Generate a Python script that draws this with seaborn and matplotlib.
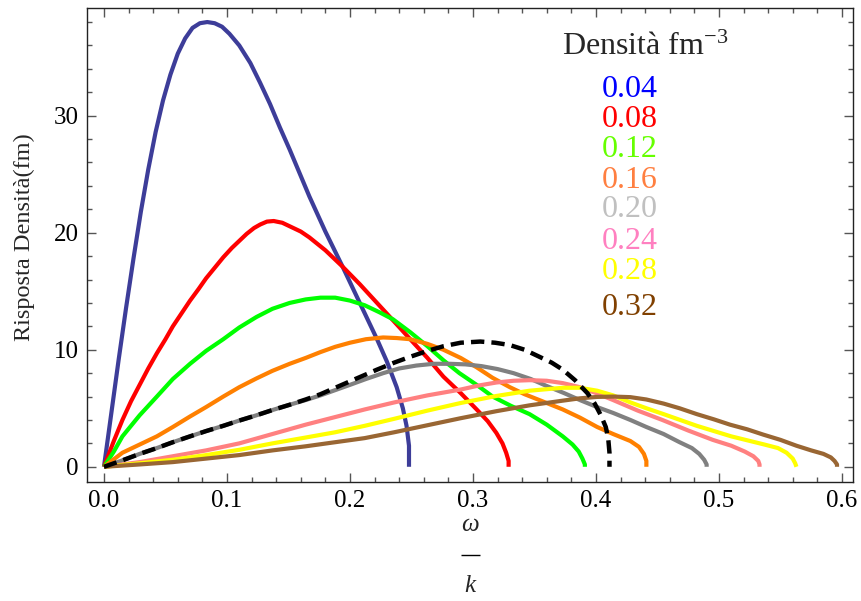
import matplotlib
matplotlib.use("Agg")
import matplotlib.pyplot as plt
import seaborn as sns
from matplotlib.ticker import MultipleLocator
from matplotlib.lines import Line2D

# ---------------- data ----------------
densities = ["0.04", "0.08", "0.12", "0.16", "0.20", "0.24", "0.28", "0.32"]

x_004 = [0, 0.006, 0.012, 0.018, 0.024, 0.030, 0.036, 0.042, 0.048, 0.054, 0.060, 0.066,
         0.072, 0.078, 0.084, 0.090, 0.096, 0.102, 0.110, 0.119, 0.127, 0.135, 0.143, 0.151,
         0.159, 0.167, 0.180, 0.194, 0.208, 0.222, 0.230, 0.238, 0.243, 0.246, 0.248, 0.248]
y_004 = [0, 4.6, 9.2, 13.6, 17.8, 21.8, 25.4, 28.6, 31.3, 33.5, 35.3, 36.6,
         37.5, 37.9, 38.0, 37.9, 37.6, 37.0, 36.0, 34.5, 32.8, 31.0, 29.0, 27.1,
         25.1, 23.1, 20.1, 17.1, 14.0, 10.9, 9.0, 6.8, 5.0, 3.5, 1.8, 0]

x_008 = [0, 0.008, 0.015, 0.022, 0.029, 0.036, 0.043, 0.050, 0.056, 0.063, 0.070, 0.077,
         0.083, 0.090, 0.097, 0.104, 0.110, 0.116, 0.122, 0.127, 0.1325, 0.138, 0.145, 0.152,
         0.160, 0.167, 0.180, 0.194, 0.208, 0.222, 0.236, 0.249, 0.263, 0.276, 0.290, 0.303,
         0.312, 0.319, 0.324, 0.327, 0.329, 0.329]
y_008 = [0, 2.2, 4.0, 5.6, 7.0, 8.4, 9.7, 10.9, 12.0, 13.1, 14.2, 15.2,
         16.1, 17.0, 17.9, 18.7, 19.3, 19.9, 20.4, 20.7, 20.95, 21.0, 20.85, 20.5,
         20.1, 19.6, 18.5, 17.1, 15.6, 14.0, 12.4, 10.9, 9.3, 7.7, 6.3, 4.9,
         3.9, 2.9, 2.0, 1.2, 0.5, 0]

x_012 = [0, 0.008, 0.015, 0.029, 0.043, 0.056, 0.070, 0.083, 0.097, 0.110, 0.124, 0.137,
         0.151, 0.164, 0.176, 0.188, 0.200, 0.212, 0.224, 0.235, 0.249, 0.263, 0.276, 0.289,
         0.303, 0.316, 0.331, 0.346, 0.360, 0.373, 0.381, 0.386, 0.389, 0.391, 0.391]
y_012 = [0, 1.3, 2.6, 4.4, 6.0, 7.5, 8.8, 9.9, 10.9, 11.9, 12.8, 13.5,
         14.0, 14.3, 14.45, 14.45, 14.2, 13.8, 13.2, 12.6, 11.5, 10.3, 9.1, 8.0,
         7.0, 6.0, 5.2, 4.5, 3.6, 2.6, 1.9, 1.3, 0.7, 0.2, 0]

x_016 = [0, 0.015, 0.029, 0.043, 0.056, 0.070, 0.083, 0.097, 0.110, 0.124, 0.137, 0.151,
         0.164, 0.176, 0.188, 0.200, 0.213, 0.227, 0.238, 0.249, 0.263, 0.276, 0.290, 0.303,
         0.316, 0.330, 0.342, 0.354, 0.373, 0.387, 0.401, 0.414, 0.428, 0.435, 0.439, 0.441, 0.441]
y_016 = [0, 1.2, 1.9, 2.6, 3.4, 4.3, 5.1, 6.0, 6.8, 7.55, 8.2, 8.8,
         9.3, 9.8, 10.25, 10.6, 10.9, 11.05, 11.0, 10.9, 10.5, 10.0, 9.3, 8.5,
         7.6, 6.8, 6.2, 5.7, 4.9, 4.2, 3.4, 2.8, 2.2, 1.7, 1.1, 0.5, 0]

x_020 = [0, 0.015, 0.029, 0.043, 0.056, 0.070, 0.083, 0.097, 0.110, 0.124, 0.137, 0.151,
         0.164, 0.176, 0.188, 0.200, 0.213, 0.227, 0.240, 0.254, 0.268, 0.281, 0.294, 0.307,
         0.320, 0.333, 0.347, 0.360, 0.374, 0.387, 0.401, 0.414, 0.428, 0.441, 0.455, 0.468,
         0.478, 0.484, 0.488, 0.490, 0.490]
y_020 = [0, 0.55, 1.1, 1.6, 2.1, 2.6, 3.05, 3.5, 3.95, 4.4, 4.85, 5.3,
         5.7, 6.1, 6.55, 7.0, 7.5, 8.0, 8.4, 8.65, 8.8, 8.8, 8.75, 8.6,
         8.35, 8.0, 7.5, 6.9, 6.3, 5.7, 5.1, 4.6, 4.0, 3.4, 2.8, 2.1,
         1.6, 1.1, 0.6, 0.2, 0]

x_024 = [0, 0.029, 0.056, 0.083, 0.110, 0.137, 0.164, 0.188, 0.212, 0.236, 0.263, 0.290,
         0.305, 0.319, 0.333, 0.346, 0.360, 0.373, 0.387, 0.400, 0.414, 0.434, 0.454, 0.475,
         0.495, 0.510, 0.521, 0.528, 0.532, 0.533, 0.533]
y_024 = [0, 0.4, 0.9, 1.4, 2.0, 2.8, 3.6, 4.25, 4.9, 5.5, 6.1, 6.6,
         6.95, 7.2, 7.35, 7.4, 7.35, 7.15, 6.8, 6.3, 5.7, 4.8, 4.0, 3.1,
         2.3, 1.8, 1.3, 0.9, 0.5, 0.2, 0]

x_028 = [0, 0.029, 0.056, 0.083, 0.110, 0.137, 0.164, 0.188, 0.212, 0.236, 0.263, 0.290,
         0.319, 0.346, 0.373, 0.387, 0.401, 0.414, 0.428, 0.441, 0.455, 0.482, 0.510, 0.537,
         0.548, 0.555, 0.560, 0.562, 0.563]
y_028 = [0, 0.3, 0.6, 1.0, 1.45, 2.0, 2.5, 2.95, 3.5, 4.1, 4.8, 5.45,
         6.05, 6.5, 6.75, 6.75, 6.5, 6.1, 5.5, 5.0, 4.5, 3.5, 2.6, 1.9,
         1.6, 1.2, 0.7, 0.3, 0]

x_032 = [0, 0.029, 0.056, 0.083, 0.110, 0.137, 0.164, 0.188, 0.212, 0.236, 0.263, 0.290,
         0.319, 0.346, 0.373, 0.387, 0.401, 0.414, 0.428, 0.441, 0.455, 0.468, 0.482, 0.496,
         0.509, 0.523, 0.536, 0.550, 0.563, 0.575, 0.585, 0.591, 0.594, 0.596, 0.596]
y_032 = [0, 0.2, 0.4, 0.7, 1.0, 1.4, 1.75, 2.1, 2.45, 2.95, 3.55, 4.15,
         4.75, 5.25, 5.65, 5.85, 5.97, 6.0, 5.95, 5.75, 5.4, 5.0, 4.5, 4.05,
         3.6, 3.2, 2.75, 2.3, 1.8, 1.4, 1.1, 0.8, 0.5, 0.2, 0]

x_dash = [0, 0.015, 0.029, 0.043, 0.056, 0.070, 0.083, 0.097, 0.110, 0.124, 0.137, 0.151,
          0.164, 0.176, 0.188, 0.200, 0.211, 0.222, 0.236, 0.249, 0.263, 0.276, 0.290, 0.306,
          0.318, 0.330, 0.342, 0.354, 0.364, 0.373, 0.383, 0.393, 0.399, 0.404, 0.408, 0.410,
          0.411, 0.411]
y_dash = [0, 0.55, 1.1, 1.6, 2.1, 2.6, 3.05, 3.5, 3.95, 4.4, 4.85, 5.3,
          5.75, 6.2, 6.75, 7.3, 7.8, 8.3, 8.9, 9.4, 9.9, 10.3, 10.6, 10.7,
          10.6, 10.4, 10.0, 9.4, 8.9, 8.3, 7.4, 6.3, 5.4, 4.4, 3.4, 2.4,
          1.2, 0]

series_x = [x_004, x_008, x_012, x_016, x_020, x_024, x_028, x_032]
series_y = [y_004, y_008, y_012, y_016, y_020, y_024, y_028, y_032]

line_colors = ["#3d3d99", "#ff0000", "#00ff00", "#ff8000", "#808080", "#ff8080", "#ffff00", "#996633"]
label_colors = ["#0000ff", "#ff0000", "#66ff00", "#ff7f40", "#c0c0c0", "#ff80c0", "#ffff00", "#804000"]

x_ticks = [0.0, 0.1, 0.2, 0.3, 0.4, 0.5, 0.6]
y_ticks = [0, 10, 20, 30]

# ---------------- style ----------------
sns.set_theme(style="ticks")
plt.rcParams["font.family"] = ["Liberation Serif", "DejaVu Serif"]
plt.rcParams["mathtext.fontset"] = "custom"
plt.rcParams["mathtext.rm"] = "Liberation Serif"
plt.rcParams["mathtext.it"] = "Liberation Serif:italic"
plt.rcParams["lines.solid_joinstyle"] = "round"
plt.rcParams["lines.solid_capstyle"] = "butt"

W, H = 862, 601
fig = plt.figure(figsize=(W / 100, H / 100), dpi=100)
L, R, T, B = 87, 853, 8, 482
ax = fig.add_axes([L / W, 1 - B / H, (R - L) / W, (B - T) / H])

for xs, ys, c in zip(series_x, series_y, line_colors):
    sns.lineplot(x=xs, y=ys, sort=False, estimator=None, color=c, lw=3.0, ax=ax)

sns.lineplot(x=x_dash, y=y_dash, sort=False, estimator=None, color="black", lw=3.2, ax=ax)
ax.lines[-1].set_linestyle((0, (3.0, 1.6)))

ax.set_xlim(-0.0138, 0.609)
ax.set_ylim(-1.3, 39.2)
ax.set_xticks(x_ticks)
ax.set_xticklabels([f"{v:.1f}" for v in x_ticks])
ax.set_yticks(y_ticks)
ax.set_yticklabels([str(v) for v in y_ticks])
ax.xaxis.set_minor_locator(MultipleLocator(0.02))
ax.yaxis.set_minor_locator(MultipleLocator(2))
ax.tick_params(which="both", direction="in", top=True, right=True, color="#555555",
               width=1.0, labelsize=18, labelcolor="black")
ax.tick_params(which="major", length=6.5, pad=6)
ax.tick_params(which="minor", length=3.8)
for s in ax.spines.values():
    s.set_color("#222222")
    s.set_linewidth(1.0)
ax.set_xlabel("")
ax.set_ylabel("")

# axis labels
fig.text(24 / W, 1 - 237 / H, "Risposta Densità(fm)", rotation=90, ha="center", va="center",
         fontsize=17.5)
fig.text(470 / W, 1 - 525 / H, "ω", ha="center", va="center", fontsize=18, fontstyle="italic")
fig.add_artist(Line2D([461 / W, 480 / W], [1 - 555 / H, 1 - 555 / H], color="black", lw=1.0,
                      transform=fig.transFigure))
fig.text(470 / W, 1 - 586 / H, "k", ha="center", va="center", fontsize=18, fontstyle="italic")

# legend
fig.text(562 / W, 1 - 55 / H, r"Densità fm$^{-3}$", ha="left", va="baseline", fontsize=23)
baselines = [97, 127, 157, 188, 217, 249, 279, 315]
for lab, c, yb in zip(densities, label_colors, baselines):
    fig.text(630 / W, 1 - yb / H, lab, ha="center", va="baseline", fontsize=23, color=c)

fig.savefig("out.png", dpi=100)
